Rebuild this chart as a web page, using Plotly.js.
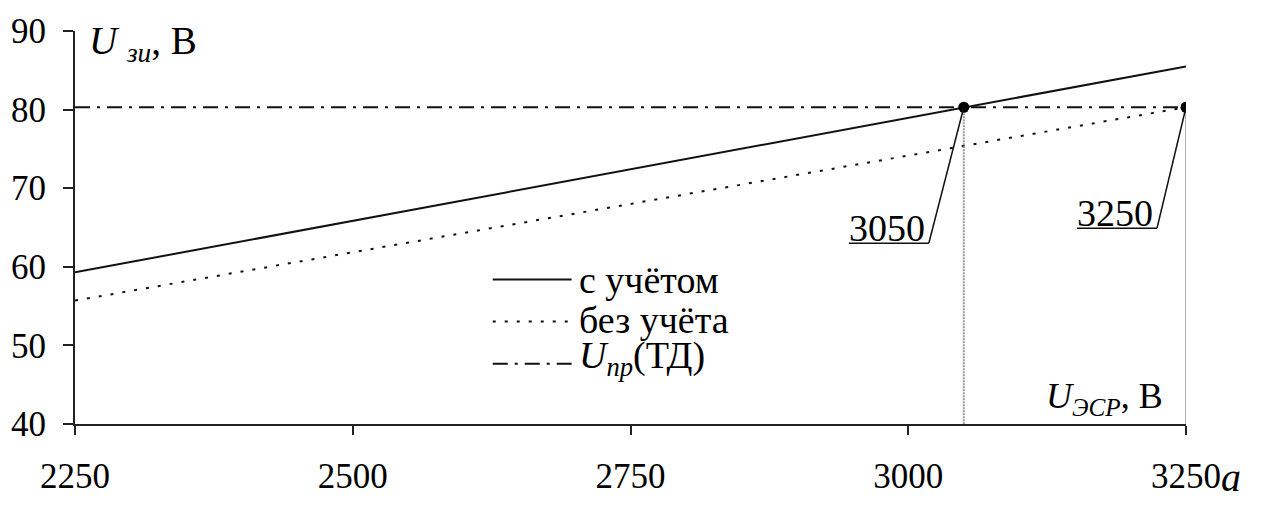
<!DOCTYPE html>
<html>
<head>
<meta charset="utf-8">
<script src="https://cdn.plot.ly/plotly-3.0.1.min.js"></script>
<style>
  html, body { margin: 0; padding: 0; background: #fff; }
  #chart { width: 1262px; height: 505px; }
</style>
</head>
<body>
<div id="chart"></div>
<script>
// Gate voltage versus source voltage, with and without the correction
const uEsr = [2250, 3250];
const withCorrection = [59.3, 85.5];
const withoutCorrection = [55.7, 80.3];
const uThreshold = [80.3, 80.3];
const crossX = [3050, 3250];
const crossY = [80.3, 80.3];
const crossLabels = ['3050', '3250'];
const xTicks = [2250, 2500, 2750, 3000, 3250];
const yTicks = [40, 50, 60, 70, 80, 90];
const legendNames = ['с учётом', 'без учёта', '<i>U</i><sub><i>пр</i></sub>(ТД)'];

const FONT = 'Liberation Serif';
const yMin = yTicks[0];

const traces = [
  { x: uEsr, y: withCorrection, mode: 'lines', line: { color: '#111', width: 2 }, showlegend: false, hoverinfo: 'skip' },
  { x: uEsr, y: withoutCorrection, mode: 'lines', line: { color: '#111', width: 2, dash: '3px,9px' }, showlegend: false, hoverinfo: 'skip' },
  { x: uEsr, y: uThreshold, mode: 'lines', line: { color: '#111', width: 2, dash: '15px,7px,3px,7px' }, showlegend: false, hoverinfo: 'skip' },
  // drop lines from the crossing points to the axis
  { x: [crossX[0], crossX[0]], y: [crossY[0], yMin], mode: 'lines', line: { color: '#9a9a9a', width: 2, dash: '2px,1px' }, showlegend: false, hoverinfo: 'skip' },
  { x: [crossX[1], crossX[1]], y: [crossY[1], yMin], mode: 'lines', line: { color: '#9a9a9a', width: 1.5 }, showlegend: false, hoverinfo: 'skip' },
  { x: crossX, y: crossY, mode: 'markers', marker: { color: '#000', size: 11 }, showlegend: false, hoverinfo: 'skip' }
];

// Leader lines with underlined labels, offsets in pixels from each point
const leaders = [
  { dx: -35, dy: -136, len: 80, tx: -37, ty: -121 },
  { dx: -29, dy: -121, len: 80, tx: -31, ty: -106 }
];
const shapes = [];
const annotations = [];
crossX.forEach((cx, i) => {
  const L = leaders[i];
  const base = { type: 'line', xref: 'x', yref: 'y', xsizemode: 'pixel', ysizemode: 'pixel',
                 xanchor: cx, yanchor: crossY[i], line: { color: '#111', width: 1.5 } };
  shapes.push(Object.assign({}, base, { x0: 0, y0: 0, x1: L.dx, y1: L.dy }));
  shapes.push(Object.assign({}, base, { x0: L.dx, y0: L.dy, x1: L.dx - L.len, y1: L.dy }));
  annotations.push({ x: cx, y: crossY[i], xref: 'x', yref: 'y', text: crossLabels[i], showarrow: false,
                     xanchor: 'right', yanchor: 'middle', xshift: L.tx, yshift: L.ty,
                     font: { family: FONT, size: 38, color: '#000' } });
});

// Legend drawn as line samples and labels in paper coordinates
const legendRows = [
  { y: 0.368, ty: 0.366, dash: 'solid' },
  { y: 0.261, ty: 0.264, dash: '3px,9px' },
  { y: 0.153, ty: 0.169, dash: '15px,7px,3px,7px' }
];
legendRows.forEach((r, i) => {
  shapes.push({ type: 'line', xref: 'paper', yref: 'paper', x0: 0.376, x1: 0.447, y0: r.y, y1: r.y,
                line: { color: '#111', width: 2, dash: r.dash } });
  annotations.push({ xref: 'paper', yref: 'paper', x: 0.452, y: r.ty, xanchor: 'left', yanchor: 'middle',
                     text: legendNames[i], showarrow: false, font: { family: FONT, size: 38, color: '#000' } });
});

annotations.push(
  { xref: 'paper', yref: 'paper', x: 0.0105, y: 1.0, xanchor: 'left', yanchor: 'top', yshift: 14,
    text: '<i>U</i> <sub><i>зи</i></sub>, В', showarrow: false, font: { family: FONT, size: 39, color: '#000' } },
  { xref: 'paper', yref: 'paper', x: 0.9815, y: 0.0, xanchor: 'right', yanchor: 'bottom', yshift: 1,
    text: '<i>U</i><sub><i>ЭСР</i></sub>, В', showarrow: false, font: { family: FONT, size: 36, color: '#000' } },
  { xref: 'paper', yref: 'paper', x: 1.03, y: -0.199, xanchor: 'left', yanchor: 'bottom',
    text: '<i>a</i>', showarrow: false, font: { family: FONT, size: 40, color: '#000' } }
);

const layout = {
  width: 1262, height: 505,
  margin: { l: 75, r: 76, t: 31, b: 81 },
  paper_bgcolor: '#fff', plot_bgcolor: '#fff',
  font: { family: FONT, size: 35, color: '#000' },
  xaxis: {
    range: [xTicks[0], xTicks[xTicks.length - 1]], tickvals: xTicks, ticktext: xTicks.map(String),
    showgrid: false, zeroline: false, showline: true, linecolor: '#222', linewidth: 2,
    ticks: 'outside', ticklen: 9, tickwidth: 2, tickcolor: '#222',
    tickfont: { family: FONT, size: 35, color: '#000' }, ticklabelstandoff: 11
  },
  yaxis: {
    range: [yTicks[0], yTicks[yTicks.length - 1]], tickvals: yTicks, ticktext: yTicks.map(String),
    showgrid: false, zeroline: false, showline: true, linecolor: '#222', linewidth: 2,
    ticks: 'outside', ticklen: 10, tickwidth: 2, tickcolor: '#222',
    tickfont: { family: FONT, size: 35, color: '#000' }, ticklabelstandoff: 10
  },
  shapes: shapes,
  annotations: annotations,
  showlegend: false
};

Plotly.newPlot('chart', traces, layout, { displayModeBar: false, staticPlot: true });
</script>
</body>
</html>
